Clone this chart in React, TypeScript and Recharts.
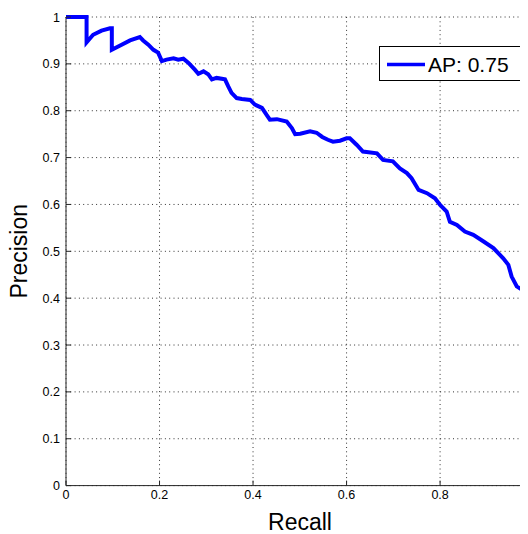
import React from 'react';
import { LineChart, Line, XAxis, YAxis, CartesianGrid, Legend } from 'recharts';

const recall = [0, 0.044, 0.044, 0.058, 0.076, 0.094, 0.098, 0.098, 0.119, 0.137, 0.158, 0.165, 0.176, 0.187, 0.197, 0.205, 0.215, 0.230, 0.240, 0.251, 0.262, 0.276, 0.283, 0.294, 0.304, 0.312, 0.322, 0.340, 0.347, 0.354, 0.365, 0.376, 0.394, 0.404, 0.419, 0.429, 0.436, 0.451, 0.472, 0.483, 0.490, 0.501, 0.522, 0.536, 0.548, 0.560, 0.571, 0.586, 0.600, 0.607, 0.622, 0.635, 0.665, 0.678, 0.699, 0.714, 0.729, 0.739, 0.754, 0.772, 0.789, 0.800, 0.814, 0.821, 0.836, 0.853, 0.871, 0.893, 0.914, 0.935, 0.946, 0.953, 0.964, 0.975, 0.978, 0.978, 0.988, 1.0];
const precision = [1, 1, 0.946, 0.962, 0.971, 0.976, 0.976, 0.930, 0.941, 0.950, 0.957, 0.950, 0.941, 0.930, 0.924, 0.906, 0.909, 0.912, 0.909, 0.911, 0.902, 0.887, 0.879, 0.884, 0.878, 0.867, 0.870, 0.867, 0.852, 0.838, 0.827, 0.825, 0.823, 0.813, 0.806, 0.791, 0.781, 0.782, 0.777, 0.763, 0.750, 0.751, 0.756, 0.753, 0.744, 0.738, 0.734, 0.736, 0.741, 0.741, 0.727, 0.713, 0.709, 0.695, 0.692, 0.677, 0.667, 0.656, 0.631, 0.624, 0.613, 0.599, 0.585, 0.563, 0.556, 0.542, 0.535, 0.521, 0.507, 0.485, 0.471, 0.446, 0.425, 0.418, 0.418, 0.389, 0.380, 0.370];

// visible part of the recall axis (the figure is cropped just before 1.0)
const xDomain = [0, 0.988];
const xTicks = [0, 0.2, 0.4, 0.6, 0.8];
const xTickLabels = ['0', '0.2', '0.4', '0.6', '0.8'];
const yTicks = [0, 0.1, 0.2, 0.3, 0.4, 0.5, 0.6, 0.7, 0.8, 0.9, 1];
const yTickLabels = ['0', '0.1', '0.2', '0.3', '0.4', '0.5', '0.6', '0.7', '0.8', '0.9', '1'];
const seriesName = 'AP: 0.75';
const xLabel = 'Recall';
const yLabel = 'Precision';

const data = recall.map((r, i) => ({ recall: r, precision: precision[i] }));

const FONT = '"Liberation Sans", Arial, Helvetica, sans-serif';
const AXIS = '#262626';

const BottomTick = (props: any) => {
  const { x, y, payload } = props;
  const idx = xTicks.indexOf(payload.value);
  const label = idx >= 0 ? xTickLabels[idx] : '';
  return (
    <g>
      <line x1={x} x2={x} y1={y} y2={y - 5} stroke={AXIS} strokeWidth={1} />
      <text x={x} y={y + 13.6} textAnchor="middle" fontFamily={FONT} fontSize={12.5} fill="#000">
        {label}
      </text>
    </g>
  );
};

const TopTick = (props: any) => {
  const { x, y } = props;
  return <line x1={x} x2={x} y1={y} y2={y + 5} stroke={AXIS} strokeWidth={1} />;
};

const LeftTick = (props: any) => {
  const { x, y, payload } = props;
  const idx = yTicks.indexOf(payload.value);
  const label = idx >= 0 ? yTickLabels[idx] : String(payload.value);
  return (
    <g>
      <line x1={x} x2={x + 5} y1={y} y2={y} stroke={AXIS} strokeWidth={1} />
      <text x={x - 6} y={y + 4.5} textAnchor="end" fontFamily={FONT} fontSize={12.5} fill="#000">
        {label}
      </text>
    </g>
  );
};

const renderLegend = () => (
  <div
    style={{
      width: 143,
      height: 35,
      boxSizing: 'border-box',
      border: '1px solid #000',
      background: '#fff',
    }}
  >
    <svg width={141} height={33} style={{ display: 'block' }}>
      <line x1={7} x2={45} y1={17.5} y2={17.5} stroke="#0000ff" strokeWidth={3.5} />
      <text x={48} y={25} fontFamily={FONT} fontSize={21} fill="#000">
        {seriesName}
      </text>
    </svg>
  </div>
);

export default function App() {
  return (
    <div style={{ width: 520, height: 526, overflow: 'hidden', position: 'relative' }}>
      <style>{'body{overflow:hidden}'}</style>
      <LineChart
        width={520}
        height={526}
        data={data}
        margin={{ top: 9, right: 0, bottom: 0, left: 0 }}
        style={{ background: '#fff' }}
      >
        <CartesianGrid stroke="#333" strokeDasharray="1 3.3" />
        <XAxis
          dataKey="recall"
          type="number"
          domain={xDomain}
          ticks={xTicks}
          interval={0}
          allowDataOverflow
          height={48.4}
          tickSize={0}
          tickMargin={0}
          tickLine={false}
          axisLine={{ stroke: AXIS, strokeWidth: 1 }}
          tick={BottomTick}
          label={(p: any) => {
            const vb = p.viewBox;
            return (
              <text
                x={vb.x + 234}
                y={vb.y + 44}
                textAnchor="middle"
                fontFamily={FONT}
                fontSize={23}
                fill="#000"
              >
                {xLabel}
              </text>
            );
          }}
        />
        <XAxis
          xAxisId="top"
          orientation="top"
          dataKey="recall"
          type="number"
          domain={xDomain}
          ticks={xTicks}
          interval={0}
          allowDataOverflow
          height={0}
          tickSize={0}
          tickMargin={0}
          tickLine={false}
          axisLine={{ stroke: AXIS, strokeWidth: 1 }}
          tick={TopTick}
        />
        <YAxis
          type="number"
          domain={[0, 1]}
          ticks={yTicks}
          interval={0}
          width={58}
          tickSize={0}
          tickMargin={0}
          tickLine={false}
          axisLine={{ stroke: AXIS, strokeWidth: 1 }}
          tick={LeftTick}
          label={(p: any) => {
            const vb = p.viewBox;
            const cx = 19.5;
            const cy = vb.y + vb.height / 2;
            return (
              <text
                x={cx}
                y={cy}
                transform={`rotate(-90, ${cx}, ${cy})`}
                textAnchor="middle"
                fontFamily={FONT}
                fontSize={23}
                fill="#000"
              >
                {yLabel}
              </text>
            );
          }}
        />
        <Legend
          layout="horizontal"
          verticalAlign="middle"
          align="center"
          wrapperStyle={{ left: 371, top: 37.7, width: 143, height: 35 }}
          content={renderLegend}
        />
        <Line
          type="linear"
          dataKey="precision"
          name={seriesName}
          stroke="#0000ff"
          strokeWidth={4}
          dot={false}
          activeDot={false}
          isAnimationActive={false}
        />
      </LineChart>
    </div>
  );
}
